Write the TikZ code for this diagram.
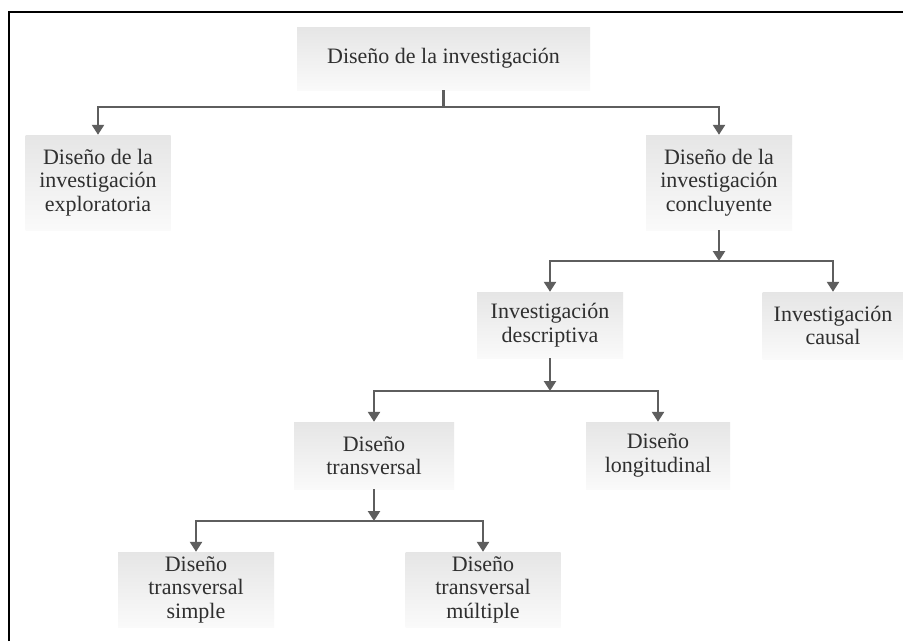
\documentclass[tikz,border=0pt]{standalone}
\usepackage{fontspec}
\setmainfont{Liberation Serif}
\usetikzlibrary{arrows.meta}
\definecolor{linegray}{HTML}{5E5E5E}
\definecolor{txtgray}{HTML}{2F2F2F}
\tikzset{
  box/.style={top color=black!10, bottom color=black!2, draw=none,
    align=center, text=txtgray, inner sep=0pt,
    font=\fontsize{22}{23.5}\selectfont},
  conn/.style={draw=linegray, line width=2.4pt},
  arr/.style={conn, -{Triangle[width=12pt,length=10pt]}}
}
\begin{document}
\begin{tikzpicture}[x=1pt,y=-1pt]
\useasboundingbox (0,0) rectangle (903,641);
\fill[white] (0,0) rectangle (903,641);
% outer frame (left and top edges visible)
\draw[black, line width=2pt] (9,641) -- (9,12) -- (903,12);

% boxes
\node[box, minimum width=293pt, minimum height=63pt] (top) at (443.5,58.5) {Diseño de la investigación};
\node[box, minimum width=145pt, minimum height=95pt] (expl) at (98,182.5) {Diseño de la\\investigación\\exploratoria};
\node[box, minimum width=146pt, minimum height=95pt] (concl) at (719,182.5) {Diseño de la\\investigación\\concluyente};
\node[box, minimum width=146pt, minimum height=66pt] (desc) at (550,325) {Investigación\\descriptiva};
\node[box, minimum width=141pt, minimum height=67pt] (causal) at (833,325.5) {Investigación\\causal};
\node[box, minimum width=160pt, minimum height=67pt] (trans) at (374,455.5) {Diseño\\transversal};
\node[box, minimum width=144pt, minimum height=67pt] (long) at (658,455.5) {Diseño\\longitudinal};
\node[box, minimum width=156pt, minimum height=75pt] (simple) at (196,589.5) {Diseño\\transversal\\simple};
\node[box, minimum width=155pt, minimum height=75pt] (mult) at (483,589.5) {Diseño\\transversal\\múltiple};

% junction points of the connectors
\coordinate (j1) at (443.5,107);
\coordinate (j2) at (719,261);
\coordinate (j3) at (550,391);
\coordinate (j4) at (374,521);

% connectors
\draw[conn] (top.south) -- (j1);
\draw[arr] (j1) -| (expl.north);
\draw[arr] (j1) -| (concl.north);

\draw[arr] (concl.south) -- (j2);
\draw[arr] (j2) -| (desc.north);
\draw[arr] (j2) -| (causal.north);

\draw[arr] (desc.south) -- (j3);
\draw[arr] (j3) -| (trans.north);
\draw[arr] (j3) -| (long.north);

\draw[arr] (trans.south) -- (j4);
\draw[arr] (j4) -| (simple.north);
\draw[arr] (j4) -| (mult.north);
\end{tikzpicture}
\end{document}
